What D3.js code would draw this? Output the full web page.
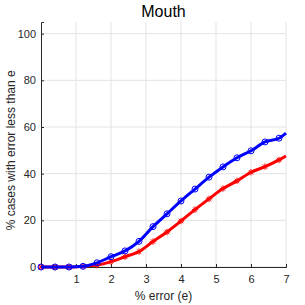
<!DOCTYPE html>
<html>
<head>
<meta charset="utf-8">
<script src="https://cdn.jsdelivr.net/npm/d3@7"></script>
<style>
  html, body { margin: 0; padding: 0; background: #fff; }
  svg { display: block; font-family: "Liberation Sans", Arial, sans-serif; }
</style>
</head>
<body>
<div id="chart"></div>
<script>
// marker positions (% error), last point is the line end without marker
const errX = [0, 0.4, 0.8, 1.2, 1.6, 2.0, 2.4, 2.8, 3.2, 3.6, 4.0, 4.4, 4.8, 5.2, 5.6, 6.0, 6.4, 6.8, 7.0];
const blueVals = [0, 0, 0, 0.3, 1.8, 4.4, 6.9, 11.0, 17.3, 22.8, 28.3, 33.4, 38.5, 42.9, 46.8, 49.8, 53.6, 55.2, 57.4];
const redVals = [0, 0, 0, 0.3, 0.8, 2.3, 4.4, 6.6, 10.9, 15.0, 19.7, 24.6, 29.2, 33.6, 36.9, 40.6, 43.0, 45.9, 47.6];
const xTicks = [1, 2, 3, 4, 5, 6, 7];
const yTicks = [0, 20, 40, 60, 80, 100];

const width = 305, height = 305;
const margin = { left: 41, right: 19, top: 22, bottom: 38 };

const svg = d3.select('#chart').append('svg')
    .attr('width', width)
    .attr('height', height);

const x = d3.scaleLinear().domain([0, 7]).range([margin.left, width - margin.right]);
const y = d3.scaleLinear().domain([0, 105]).range([height - margin.bottom, margin.top]);

// grid
const grid = svg.append('g');
grid.selectAll('.vg').data(xTicks).enter().append('line')
    .attr('x1', d => x(d)).attr('x2', d => x(d))
    .attr('y1', y(0)).attr('y2', y(105))
    .attr('stroke', '#e3e3e3').attr('stroke-width', 1);
grid.selectAll('.hg').data(yTicks).enter().append('line')
    .attr('x1', x(0)).attr('x2', x(7))
    .attr('y1', d => y(d)).attr('y2', d => y(d))
    .attr('stroke', '#e3e3e3').attr('stroke-width', 1);

// axes
const xAxis = svg.append('g')
    .attr('transform', `translate(0,${y(0)})`)
    .call(d3.axisBottom(x).tickValues(xTicks).tickFormat(d3.format('d')).tickSize(-3).tickPadding(8));
const yAxis = svg.append('g')
    .attr('transform', `translate(${x(0)},0)`)
    .call(d3.axisLeft(y).tickValues(yTicks).tickFormat(d3.format('d')).tickSize(-3).tickPadding(5));

[xAxis, yAxis].forEach(a => {
    a.select('.domain').attr('stroke', '#262626');
    a.selectAll('.tick line').attr('stroke', '#262626');
    a.selectAll('.tick text').attr('fill', '#262626').attr('font-size', '11px')
        .attr('font-family', '"Liberation Sans", Arial, sans-serif');
});

// lines
const rows = (vals) => errX.map((e, i) => ({ e, v: vals[i] }));
const line = d3.line().x(d => x(d.e)).y(d => y(d.v)).curve(d3.curveMonotoneX);

const series = [
    { vals: redVals, color: '#ff0000', marker: 'star' },
    { vals: blueVals, color: '#0000ff', marker: 'circle' }
];

series.forEach(s => {
    const data = rows(s.vals);
    svg.append('path')
        .datum(data)
        .attr('d', line)
        .attr('fill', 'none')
        .attr('stroke', s.color)
        .attr('stroke-width', 3)
        .attr('stroke-linejoin', 'round');

    const pts = data.slice(0, data.length - 1);
    const g = svg.append('g');
    if (s.marker === 'circle') {
        g.selectAll('circle').data(pts).enter().append('circle')
            .attr('cx', d => x(d.e)).attr('cy', d => y(d.v))
            .attr('r', 3)
            .attr('fill', 'none')
            .attr('stroke', s.color)
            .attr('stroke-width', 1);
    } else {
        const r = 3.2;
        g.selectAll('path').data(pts).enter().append('path')
            .attr('transform', d => `translate(${x(d.e)},${y(d.v)})`)
            .attr('d', `M${-r},0H${r}M0,${-r}V${r}M${-r*0.7},${-r*0.7}L${r*0.7},${r*0.7}M${-r*0.7},${r*0.7}L${r*0.7},${-r*0.7}`)
            .attr('stroke', s.color)
            .attr('stroke-width', 1)
            .attr('fill', 'none');
    }
});

// title and labels
svg.append('text')
    .attr('x', x(3.5)).attr('y', 17)
    .attr('text-anchor', 'middle')
    .attr('font-size', '16px')
    .attr('fill', '#000')
    .text('Mouth');

svg.append('text')
    .attr('x', x(3.5)).attr('y', 300)
    .attr('text-anchor', 'middle')
    .attr('font-size', '12px')
    .attr('fill', '#262626')
    .text('% error (e)');

svg.append('text')
    .attr('transform', `translate(15,${y(50)}) rotate(-90)`)
    .attr('text-anchor', 'middle')
    .attr('font-size', '12px')
    .attr('fill', '#262626')
    .text('% cases with error less than e');
</script>
</body>
</html>
